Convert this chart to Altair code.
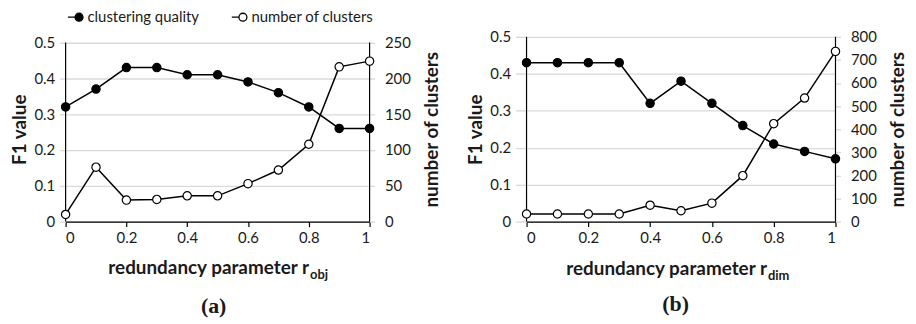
import altair as alt
import pandas as pd

# ---------------- data ----------------
r_values = [0, 0.1, 0.2, 0.3, 0.4, 0.5, 0.6, 0.7, 0.8, 0.9, 1.0]

quality_a = [0.32, 0.37, 0.43, 0.43, 0.41, 0.41, 0.39, 0.36, 0.32, 0.26, 0.26]
clusters_a = [10, 76, 30, 31, 36, 36, 53, 72, 108, 216, 224]

quality_b = [0.43, 0.43, 0.43, 0.43, 0.32, 0.38, 0.32, 0.26, 0.21, 0.19, 0.17]
clusters_b = [33, 33, 33, 33, 71, 47, 80, 199, 424, 535, 737]

series_names = ["clustering quality", "number of clusters"]
x_ticks = [0, 0.2, 0.4, 0.6, 0.8, 1.0]
f1_ticks = [0, 0.1, 0.2, 0.3, 0.4, 0.5]
clusters_ticks_a = [0, 50, 100, 150, 200, 250]
clusters_ticks_b = [0, 100, 200, 300, 400, 500, 600, 700, 800]

FONT = "Lato"
GRID = "#d9d9d9"
TXT = "#1a1a1a"
LEGEND_SYMBOL = "M-2.8,0L-1,0M1,0A1,1,0,1,1,-1,0A1,1,0,1,1,1,0Z"

PLOT_H = 186


def panel(quality, clusters, cl_ticks, width, head, sub, tag,
          main_end, main_base, sub_base, tag_x, tag_y,
          legend_x, legend_y, legend_gap, left_tick):
    # head: extra room above the top tick (panel (a) sits lower than (b))
    df = pd.DataFrame({
        "r": r_values,
        "q": quality,
        "n": clusters,
        "s1": series_names[0],
        "s2": series_names[1],
    })
    base = alt.Chart(df)
    x_scale = alt.Scale(domain=[0, 1], nice=False, zero=False)
    x_axis = alt.Axis(values=x_ticks, format="~g", title=None, grid=False,
                      domainColor="black", domainWidth=1.2,
                      tickColor="black", tickSize=5, tickWidth=1.2,
                      labelFont=FONT, labelFontSize=15, labelColor=TXT,
                      labelPadding=4)
    x = alt.X("r:Q", scale=x_scale, axis=x_axis)
    fill_scale = alt.Scale(domain=series_names, range=["black", "white"])
    legend = alt.Legend(
        title=None, orient="none", direction="horizontal",
        legendX=legend_x, legendY=legend_y,
        symbolType=LEGEND_SYMBOL, symbolSize=64,
        symbolStrokeColor="black", symbolStrokeWidth=1.3,
        labelFont=FONT, labelFontSize=15, labelColor=TXT,
        labelOffset=1, columnPadding=legend_gap, padding=0,
    )

    left_scale = alt.Scale(domain=[0, f1_ticks[-1] * head], nice=False)
    left_axis = alt.Axis(values=f1_ticks, format="~g", title="F1 value",
                         orient="left", grid=True, gridColor=GRID, gridWidth=1.4,
                         domain=False,
                         tickColor=GRID, tickSize=left_tick, tickWidth=1.4,
                         labelFont=FONT, labelFontSize=15, labelColor=TXT,
                         labelPadding=5,
                         titleFont=FONT, titleFontSize=19, titleFontWeight="bold",
                         titleColor=TXT, titlePadding=4)
    y_left = alt.Y("q:Q", scale=left_scale, axis=left_axis)
    y_right = alt.Y(
        "n:Q",
        scale=alt.Scale(domain=[cl_ticks[0], cl_ticks[-1] * head], nice=False),
        axis=alt.Axis(values=cl_ticks, title="number of clusters",
                      orient="right", grid=False, domain=False,
                      tickColor=GRID, tickSize=5, tickWidth=1.4,
                      labelFont=FONT, labelFontSize=15, labelColor=TXT,
                      labelPadding=10,
                      titleFont=FONT, titleFontSize=19, titleFontWeight="bold",
                      titleColor=TXT, titlePadding=12, titleAngle=270,
                      titleBaseline="top"),
    )

    # vertical axis lines, only from 0 up to the top tick
    edges = pd.DataFrame({"r": [0, 1], "q": [f1_ticks[0]] * 2, "q2": [f1_ticks[-1]] * 2})
    axis_lines = alt.Chart(edges).mark_rule(color="black", strokeWidth=1.2).encode(
        x=x, y=y_left, y2="q2:Q")

    q_line = base.mark_line(color="black", strokeWidth=1.5).encode(x=x, y=y_left)
    q_pts = base.mark_circle(size=70, stroke="black", strokeWidth=1.2, opacity=1).encode(
        x=x, y=y_left, fill=alt.Fill("s1:N", scale=fill_scale, legend=legend))
    n_line = base.mark_line(color="black", strokeWidth=1.5).encode(x=x, y=y_right)
    n_pts = base.mark_circle(size=70, stroke="black", strokeWidth=1.2, opacity=1).encode(
        x=x, y=y_right, fill=alt.Fill("s2:N", scale=fill_scale, legend=legend))

    one = pd.DataFrame({"t": [0]})
    t_main = alt.Chart(one).mark_text(
        text="redundancy parameter r", font=FONT, fontSize=19, fontWeight="bold",
        align="right", baseline="alphabetic", color=TXT,
    ).encode(x=alt.value(main_end), y=alt.value(main_base))
    t_sub = alt.Chart(one).mark_text(
        text=sub, font=FONT, fontSize=13, fontWeight="bold",
        align="left", baseline="alphabetic", color=TXT,
    ).encode(x=alt.value(main_end + 1), y=alt.value(sub_base))
    t_tag = alt.Chart(one).mark_text(
        text=tag, font="Liberation Serif", fontSize=22, fontWeight="bold",
        align="center", baseline="middle", color=TXT,
    ).encode(x=alt.value(tag_x), y=alt.value(tag_y))

    return alt.layer(
        alt.layer(q_line, axis_lines, q_pts),
        alt.layer(n_line, n_pts),
        t_main, t_sub, t_tag,
    ).resolve_scale(y="independent").properties(width=width, height=PLOT_H)


panel_a = panel(quality_a, clusters_a, clusters_ticks_a, 306, 186 / 180.3, "obj", "(a)",
                245, 239, 244, 149, 271, 6, -27.5, 29, 6)
panel_b = panel(quality_b, clusters_b, clusters_ticks_b, 311, 1.0, "dim", "(b)",
                242, 240, 245, 150, 269, 9, -31, 25, 11)

chart = alt.hconcat(panel_a, panel_b, spacing=25).properties(
    padding={"left": 3, "top": 0, "right": 0, "bottom": 0}
).configure_view(stroke=None)

chart.save("out.html", embed_options={"renderer": "svg", "actions": False})
